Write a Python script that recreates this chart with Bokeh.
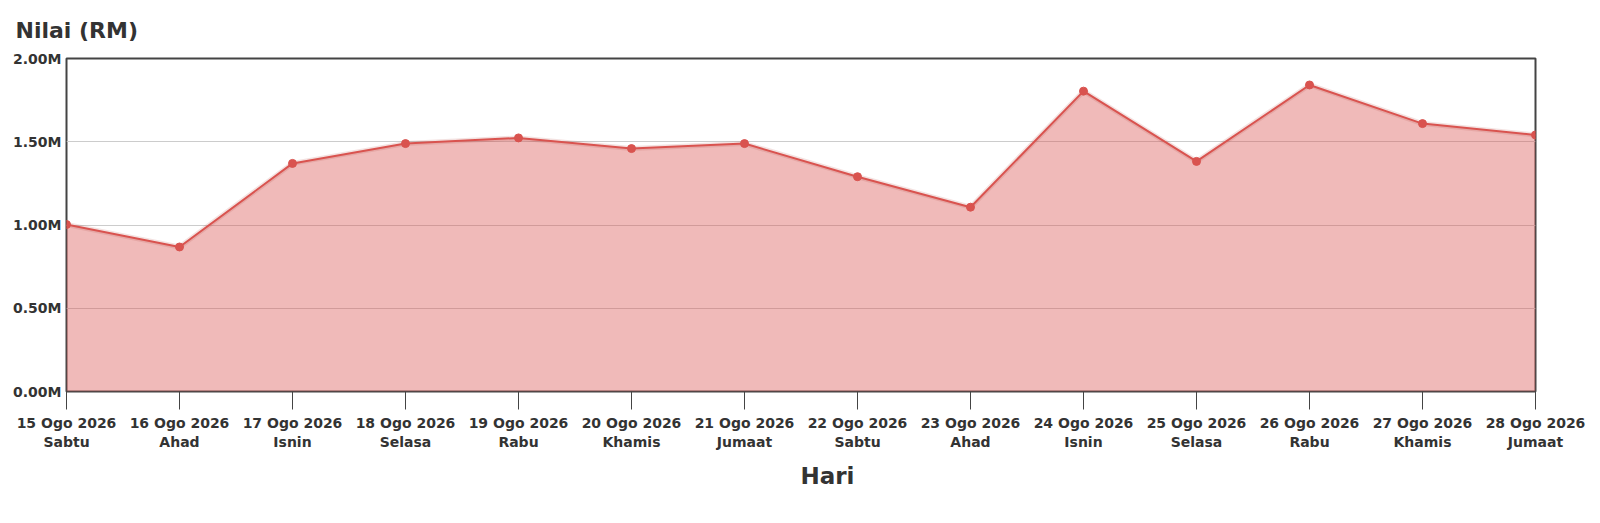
from bokeh.plotting import figure
from bokeh.models import Range1d, FixedTicker, Title
from bokeh.embed import file_html
from bokeh.resources import INLINE

# data
dates = ["15 Ogo 2026", "16 Ogo 2026", "17 Ogo 2026", "18 Ogo 2026", "19 Ogo 2026",
         "20 Ogo 2026", "21 Ogo 2026", "22 Ogo 2026", "23 Ogo 2026", "24 Ogo 2026",
         "25 Ogo 2026", "26 Ogo 2026", "27 Ogo 2026", "28 Ogo 2026"]
days = ["Sabtu", "Ahad", "Isnin", "Selasa", "Rabu", "Khamis", "Jumaat",
        "Sabtu", "Ahad", "Isnin", "Selasa", "Rabu", "Khamis", "Jumaat"]
values = [1003000, 868000, 1370000, 1489000, 1523000, 1459000, 1489000,
          1290000, 1107000, 1804000, 1382000, 1841000, 1609000, 1541000]
y_ticks = [0, 500000, 1000000, 1500000, 2000000]
y_labels = ["0.00M", "0.50M", "1.00M", "1.50M", "2.00M"]

xs = list(range(len(dates)))
red = "#d9534f"
dark = "#333333"
font = "DejaVu Sans"
plot_w = 1469

p = figure(width=1620, height=530, output_backend="svg", toolbar_location=None,
           x_range=Range1d(0, len(dates) - 1), y_range=Range1d(0, 2000000),
           min_border_left=66, min_border_right=85, min_border_top=57, min_border_bottom=139,
           title="Nilai (RM)")

p.title.text_font = font
p.title.text_font_size = "22px"
p.title.text_color = dark
p.title.offset = -51
p.title.standoff = 31

p.outline_line_color = "#444444"
p.outline_line_width = 2

# fill, line, shadow, points
p.varea(x=xs, y1=0, y2=values, fill_color=red, fill_alpha=0.4)
p.line(xs, values, line_color="#b03a36", line_width=5, line_alpha=0.15)
p.line(xs, values, line_color=red, line_width=2)
p.scatter(xs, values, size=8, fill_color=red, line_color=red)

p.xgrid.grid_line_color = None
p.ygrid.ticker = FixedTicker(ticks=y_ticks)
p.ygrid.grid_line_color = "#cccccc"

xa = p.xaxis[0]
xa.ticker = FixedTicker(ticks=xs)
xa.major_label_overrides = {i: f"{d}\n{w}" for i, (d, w) in enumerate(zip(dates, days))}
xa.axis_line_color = None
xa.major_tick_line_color = "#444444"
xa.major_tick_out = 18
xa.major_tick_in = 0
xa.minor_tick_line_color = None
xa.major_label_text_font = font
xa.major_label_text_font_style = "bold"
xa.major_label_text_font_size = "14px"
xa.major_label_text_color = dark
xa.major_label_standoff = 5

# x axis title, starts at the middle of the frame
p.add_layout(Title(text="Hari", align="left", offset=plot_w // 2, standoff=16,
                   text_font=font, text_font_style="bold", text_font_size="23px",
                   text_color=dark), "below")

ya = p.yaxis[0]
ya.ticker = FixedTicker(ticks=y_ticks)
ya.major_label_overrides = dict(zip(y_ticks, y_labels))
ya.axis_line_color = None
ya.major_tick_line_color = None
ya.major_tick_out = 0
ya.major_tick_in = 0
ya.minor_tick_line_color = None
ya.major_label_standoff = 5
ya.major_label_text_font = font
ya.major_label_text_font_style = "bold"
ya.major_label_text_font_size = "14px"
ya.major_label_text_color = dark

open("out.html", "w").write(file_html(p, INLINE))
